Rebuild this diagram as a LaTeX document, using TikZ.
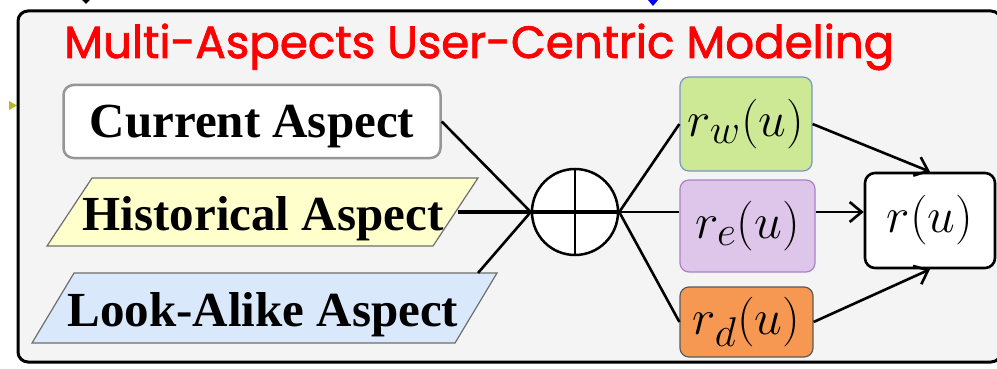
\documentclass[tikz,border=0pt]{standalone}
\usepackage{fontspec}
\usepackage{graphicx}
\setmainfont{Liberation Serif}
\newfontfamily\titlefont{Poppins}[BoldFont={Poppins}, BoldFeatures={FakeBold=1.8}]
\usetikzlibrary{arrows.meta}

\definecolor{panelbg}{RGB}{244,244,244}
\definecolor{titlered}{RGB}{255,0,0}
\definecolor{histfill}{RGB}{255,255,204}
\definecolor{lookfill}{RGB}{218,232,252}
\definecolor{wfill}{RGB}{205,233,150}
\definecolor{wedge}{RGB}{120,150,200}
\definecolor{efill}{RGB}{222,198,234}
\definecolor{eedge}{RGB}{170,130,195}
\definecolor{dfill}{RGB}{247,152,82}
\definecolor{dedge}{RGB}{90,90,90}
\definecolor{curedge}{RGB}{150,150,150}
\definecolor{shapeedge}{RGB}{110,110,110}
\definecolor{olivetip}{RGB}{185,185,40}

\tikzset{
  aspecttext/.style={font=\bfseries\fontsize{49}{49}\selectfont, inner sep=0pt},
  mathbox/.style={draw, rounded corners=9pt, line width=1.2pt, inner sep=0pt},
  link/.style={line width=2.6pt, draw=black},
  arrowlink/.style={link, -{Straight Barb[length=12pt, width=20pt, line width=2.6pt]}},
  slanted/.style={draw=shapeedge, line width=1.2pt},
}

\begin{document}
\begin{tikzpicture}[x=1pt, y=-1pt]
\useasboundingbox (0,0) rectangle (997,369);
\fill[white] (0,0) rectangle (997,369);

% tips of arrows entering the panel from outside
\fill[black] (82,0) -- (90,0) -- (86,4) -- cycle;
\fill[blue] (648,0) -- (658,0) -- (653,6) -- cycle;
\fill[olivetip] (9,101) -- (17,105.5) -- (9,110) -- cycle;

% panel
\draw[line width=3pt, fill=panelbg, rounded corners=10pt] (18,11) rectangle (1001,362);

% title
\node[anchor=base west, inner sep=0pt, text=titlered] (title) at (64,58)
  {\resizebox{830pt}{!}{\titlefont\bfseries\fontsize{46}{46}\selectfont Multi-Aspects User-Centric Modeling}};

% aspect inputs
\node[aspecttext, draw=curedge, line width=2.5pt, fill=white, rounded corners=10pt,
      minimum width=377pt, minimum height=73pt, text height=32pt, text depth=0pt]
      (cur) at (252,121.5) {Current Aspect};

\draw[slanted, fill=histfill] (47,246) -- (433,246) -- (478,178) -- (92,178) -- cycle;
\node[aspecttext, anchor=base] (hist) at (263,230) {Historical Aspect};
\coordinate (histport) at (458,212);

\draw[slanted, fill=lookfill] (32,343) -- (455,343) -- (497,273) -- (74,273) -- cycle;
\node[aspecttext, anchor=base] (look) at (263,326) {Look-Alike Aspect};
\coordinate (lookport) at (478,273);

% aggregation
\node[circle, draw, fill=white, line width=2.5pt, minimum size=86pt, inner sep=0pt]
  (sum) at (575,212) {};
\draw[line width=2pt] (sum.north) -- (sum.south);

\draw[link] (cur.east) -- (sum.west);
\draw[link] (lookport) -- (sum.west);
\draw[line width=4.5pt] (histport) -- (sum.east);

% per-aspect relevance
\node[mathbox, draw=wedge, fill=wfill, minimum width=132pt, minimum height=94pt]
  (rw) at (746,124) {\scalebox{2}{\Huge$r_w(u)$}};
\node[mathbox, draw=eedge, fill=efill, minimum width=135pt, minimum height=92pt]
  (re) at (747.5,226) {\scalebox{2}{\Huge$r_e(u)$}};
\node[mathbox, draw=dedge, fill=dfill, minimum width=133pt, minimum height=70pt]
  (rd) at (746.5,322) {\scalebox{2}{\Huge$r_d(u)$}};

\node[draw, fill=white, line width=2.6pt, rounded corners=10pt, inner sep=0pt,
      minimum width=130pt, minimum height=95pt]
  (ru) at (930,220.5) {\scalebox{2}{\Huge$r(u)$}};

\draw[link] (sum.east) -- (rw.west);
\draw[link] (sum.east) -- (sum.east -| re.west);
\draw[link] (sum.east) -- (rd.west);

\draw[arrowlink] (rw.east) -- (ru.north);
\draw[arrowlink] (re.east |- sum.east) -- (ru.west |- sum.east);
\draw[arrowlink] (rd.east) -- (ru.south);
\end{tikzpicture}
\end{document}
